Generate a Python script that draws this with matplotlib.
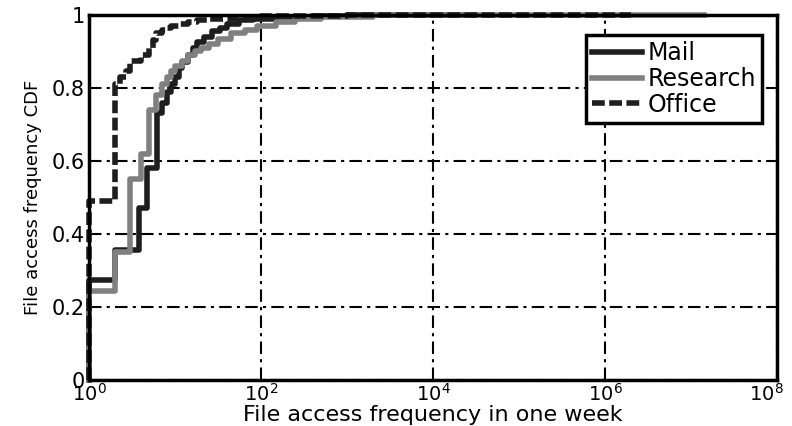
import matplotlib
matplotlib.use("Agg")
import matplotlib.pyplot as plt
from matplotlib.transforms import ScaledTranslation

# step CDFs (frequency, cumulative fraction)
mail_freq = [1, 1, 2, 3.8, 4.7, 6.2, 7, 8, 9, 10, 11, 12, 14, 16, 18, 22, 27, 33,
             40, 55, 80, 150, 400, 1000, 30000]
mail_cdf = [0, 0.275, 0.355, 0.47, 0.58, 0.73, 0.76, 0.79, 0.81, 0.83, 0.855,
            0.87, 0.89, 0.91, 0.925, 0.94, 0.955, 0.965, 0.975, 0.985, 0.99,
            0.995, 0.998, 1.0, 1.0]

research_freq = [1, 1, 2, 3, 4, 5, 6, 7, 8, 9, 10, 12, 14, 17, 20, 25, 32, 45,
                 65, 90, 150, 250, 500, 2000, 1.4e7]
research_cdf = [0, 0.245, 0.35, 0.55, 0.62, 0.74, 0.78, 0.81, 0.83, 0.845, 0.86,
                0.875, 0.89, 0.9, 0.91, 0.92, 0.935, 0.95, 0.96, 0.97, 0.98,
                0.99, 0.995, 1.0, 1.0]

office_freq = [1, 1, 2, 2.3, 2.7, 3, 4, 5, 5.5, 6, 7, 8, 9, 11, 14, 18, 25, 50,
               100, 1000, 2e6]
office_cdf = [0, 0.49, 0.81, 0.83, 0.845, 0.875, 0.89, 0.91, 0.93, 0.95, 0.96,
              0.965, 0.97, 0.975, 0.98, 0.985, 0.99, 0.995, 0.998, 1.0, 1.0]

xticks = [1e0, 1e2, 1e4, 1e6, 1e8]
xtick_labels = [r"$10^{0}$", r"$10^{2}$", r"$10^{4}$", r"$10^{6}$", r"$10^{8}$"]
yticks = [0, 0.2, 0.4, 0.6, 0.8, 1]
ytick_labels = ["0", "0.2", "0.4", "0.6", "0.8", "1"]

fig = plt.figure(figsize=(7.92, 4.26), dpi=100)
ax = fig.add_axes([0.1124, 0.108, 0.8686, 0.857])

lw = 4
ax.step(mail_freq, mail_cdf, where="post", color="#1e1e1e", lw=lw,
        label="Mail", clip_on=False, zorder=3)
ax.step(research_freq, research_cdf, where="post", color="#808080", lw=lw,
        label="Research", clip_on=False, zorder=3)
ax.step(office_freq, office_cdf, where="post", color="#1e1e1e", lw=lw,
        dashes=(2.3, 0.8), label="Office", clip_on=False, zorder=4)

ax.set_xscale("log")
ax.set_xlim(1, 1e8)
ax.set_ylim(0, 1)
ax.set_xticks(xticks)
ax.set_xticklabels(xtick_labels)
ax.minorticks_off()
ax.set_yticks(yticks)
ax.set_yticklabels(ytick_labels)
ax.tick_params(length=0, labelsize=15, pad=3)
ax.tick_params(axis="x", labelsize=14, pad=2)
# keep the last x label inside the figure
last = ax.get_xticklabels()[-1]
last.set_transform(last.get_transform() + ScaledTranslation(-8 / 72, 0, fig.dpi_scale_trans))

ax.grid(True, color="black", lw=1.5, linestyle=(0, (6, 2.5, 1.5, 2.5)))
ax.set_axisbelow(True)
for s in ax.spines.values():
    s.set_linewidth(2.5)
    s.set_zorder(5)

ax.set_xlabel("File access frequency in one week", fontsize=16, labelpad=0)
ax.set_ylabel("File access frequency CDF", fontsize=13, labelpad=7)

leg = ax.legend(loc="upper right", bbox_to_anchor=(0.978, 0.945), fontsize=17,
                handlelength=2.1, handletextpad=0.25, labelspacing=0.08,
                borderpad=0.25, fancybox=False, framealpha=1, edgecolor="black",
                borderaxespad=0)
leg.get_frame().set_linewidth(2.5)

fig.savefig("out.png", dpi=100)
